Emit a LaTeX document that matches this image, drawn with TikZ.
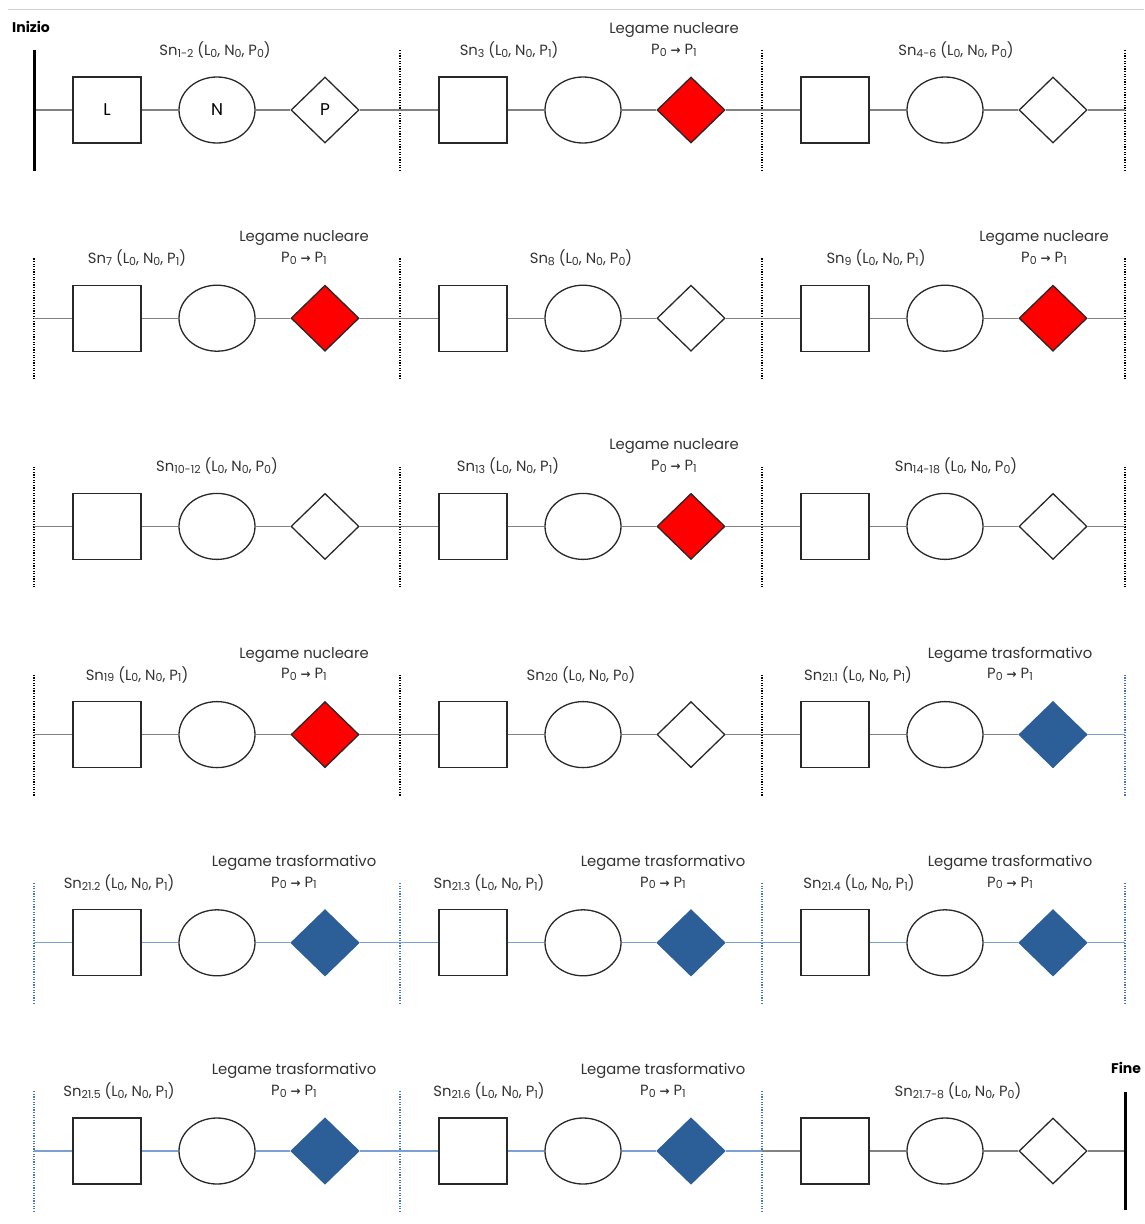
\documentclass[tikz,border=0pt]{standalone}
\usepackage{fontspec}
\setmainfont{Poppins}
\newfontfamily\arrowfont{DejaVu Sans}
\usetikzlibrary{shapes.geometric}

\definecolor{linkgray}{RGB}{130,130,130}
\definecolor{linkblue}{RGB}{125,160,210}
\definecolor{dotblue}{RGB}{70,120,190}
\definecolor{nucred}{RGB}{255,0,0}
\definecolor{trasblue}{RGB}{44,95,151}
\definecolor{edge}{RGB}{40,40,40}
\definecolor{ink}{RGB}{50,50,50}

\newcommand\ix[1]{\raisebox{-1.8pt}{\fontsize{11}{12}\selectfont #1}}

\tikzset{
  lbox/.style={draw=edge, line width=1.3pt, fill=white, minimum width=68pt, minimum height=66pt, inner sep=0pt},
  nell/.style={ellipse, draw=edge, line width=1.3pt, fill=white, minimum width=76pt, minimum height=66pt, inner sep=0pt},
  pdia/.style={diamond, draw=edge, line width=1.3pt, fill=white, minimum width=68pt, minimum height=66pt, inner sep=0pt},
  link/.style={line width=1.2pt},
  divider/.style={line width=2pt, dash pattern=on 1.3pt off 1.3pt},
  endbar/.style={line width=3pt, black},
  lbl/.style={text=ink, font=\fontsize{14.8}{17}\selectfont, inner sep=0pt},
  shapelbl/.style={text=black, font=\fontsize{17}{19}\selectfont}
}

\begin{document}
\begin{tikzpicture}[x=1pt,y=-1pt]
\useasboundingbox (0,0) rectangle (1144,1224);
\draw[gray!35, line width=1pt] (8,9) -- (1144,9);

% dividers between the segments
\foreach \r in {1,...,6}{
  \foreach \s in {1,...,4}{
    \pgfmathsetmacro\y{110+208.2*(\r-1)}
    \pgfmathsetmacro\xs{{34,400,762,1125}[\s-1]}
    \pgfmathtruncatemacro\k{4*(\r-1)+\s}
    \coordinate (d-\r-\s) at (\xs,\y);
    \ifnum\k=1\else\ifnum\k=24\else
      \ifnum\k<16 \def\dc{black}\else\def\dc{dotblue}\fi
      \draw[divider, \dc] ([yshift=-61pt]d-\r-\s) -- ([yshift=61pt]d-\r-\s);
    \fi\fi
  }
}

% segments: row/seg/subscript/P index/kind/x of Sn label/x of legame label
\foreach \r/\s/\idx/\p/\kind/\snx/\legx in {
  1/1/1-2/0/0/215/0, 1/2/3/1/1/509/674, 1/3/4-6/0/0/956/0,
  2/1/7/1/1/137/304, 2/2/8/0/0/581/0, 2/3/9/1/1/876/1044,
  3/1/10-12/0/0/217/0, 3/2/13/1/1/508/674, 3/3/14-18/0/0/956/0,
  4/1/19/1/1/137/304, 4/2/20/0/0/581/0, 4/3/21.1/1/3/858/1010,
  5/1/21.2/1/2/119/294, 5/2/21.3/1/2/489/663, 5/3/21.4/1/2/859/1010,
  6/1/21.5/1/2/119/294, 6/2/21.6/1/2/489/663, 6/3/21.7-8/0/0/958/0}{
  \pgfmathsetmacro\y{110+208.2*(\r-1)}
  \pgfmathsetmacro\xs{{34,400,762,1125}[\s-1]}
  \pgfmathtruncatemacro\nxt{\s+1}
  \ifnum\kind=0 \def\fc{white}\def\bc{edge}\fi
  \ifnum\kind=1 \def\fc{nucred}\def\bc{edge}\fi
  \ifnum\kind>1 \def\fc{trasblue}\def\bc{trasblue}\fi
  \ifnum\kind=2 \def\ca{linkblue}\else\def\ca{linkgray}\fi
  \ifnum\kind>1 \def\cb{linkblue}\else\def\cb{linkgray}\fi
  \node[lbox] (L-\r-\s) at (\xs+73,\y) {};
  \node[nell] (N-\r-\s) at (\xs+183,\y) {};
  \node[pdia, fill=\fc, draw=\bc] (P-\r-\s) at (\xs+291,\y) {};
  \draw[link, \ca] (d-\r-\s) -- (L-\r-\s);
  \draw[link, \ca] (L-\r-\s) -- (N-\r-\s);
  \draw[link, \ca] (N-\r-\s) -- (P-\r-\s);
  \draw[link, \cb] (P-\r-\s) -- (d-\r-\nxt);
  \node[lbl] (sn-\r-\s) at (\snx,\y-60) {Sn\ix{\idx} (L\ix{0}, N\ix{0}, P\ix{\p})};
  \ifnum\kind>0
    \ifnum\kind=1 \def\leg{Legame nucleare}\else\def\leg{Legame trasformativo}\fi
    \node[lbl] (leg-\r-\s) at (\legx,\y-80) {\leg};
    \node[lbl] (arr-\r-\s) at (\legx,\y-60) {P\ix{0} {\arrowfont\bfseries\fontsize{12}{12}\selectfont →} P\ix{1}};
  \fi
}

% letters in the first segment
\node[shapelbl] at (L-1-1) {L};
\node[shapelbl] at (N-1-1) {N};
\node[shapelbl] at (P-1-1) {P};

% start and end bars
\draw[endbar] ([yshift=-61pt]d-1-1) -- ([yshift=60pt]d-1-1);
\draw[endbar] ([yshift=-59pt]d-6-4) -- ([yshift=59pt]d-6-4);
\node[lbl, font=\bfseries\fontsize{14}{16}\selectfont, text=black, anchor=west] (inizio) at (12,27) {Inizio};
\node[lbl, font=\bfseries\fontsize{14}{16}\selectfont, text=black, anchor=west] (fine) at (1111,1068) {Fine};
\end{tikzpicture}
\end{document}
